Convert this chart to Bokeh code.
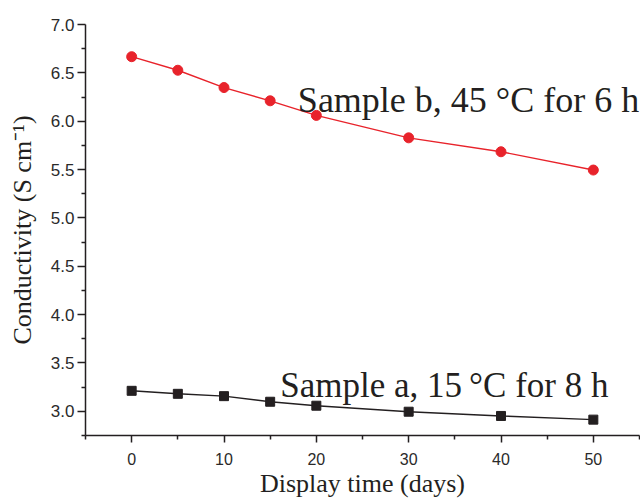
from bokeh.plotting import figure
from bokeh.models import FixedTicker, Label
from bokeh.embed import file_html
from bokeh.resources import INLINE

# Data
days = [0, 5, 10, 15, 20, 30, 40, 50]
sample_b = [6.667, 6.527, 6.348, 6.211, 6.060, 5.828, 5.684, 5.495]
sample_a = [3.212, 3.181, 3.157, 3.099, 3.058, 2.996, 2.952, 2.914]

x_major = [0, 10, 20, 30, 40, 50]
x_minor = [-5, 5, 15, 25, 35, 45, 55]
y_major = [3.0, 3.5, 4.0, 4.5, 5.0, 5.5, 6.0, 6.5, 7.0]
y_minor = [2.75, 3.25, 3.75, 4.25, 4.75, 5.25, 5.75, 6.25, 6.75]

label_b = "Sample b, 45 °C for 6 h"
label_a = "Sample a, 15\u2009°C for 8 h"

RED = "#e8232b"
BLACK = "#231f20"
SERIF = "Liberation Serif"
SANS = "Liberation Sans"

p = figure(width=640, height=500, x_range=(-5, 55), y_range=(2.75, 7.0),
           output_backend="svg", toolbar_location=None,
           min_border_left=85, min_border_right=1, min_border_top=24, min_border_bottom=62)
p.outline_line_color = None
p.xgrid.visible = False
p.ygrid.visible = False
p.background_fill_color = "white"
p.border_fill_color = "white"

p.line(days, sample_b, line_color=RED, line_width=1.4)
p.scatter(days, sample_b, marker="circle", size=10, fill_color=RED, line_color=RED)
p.line(days, sample_a, line_color=BLACK, line_width=1.4)
p.scatter(days, sample_a, marker="square", size=9, fill_color=BLACK, line_color=BLACK)

p.xaxis.ticker = FixedTicker(ticks=x_major, minor_ticks=x_minor)
p.yaxis.ticker = FixedTicker(ticks=y_major, minor_ticks=y_minor)
p.yaxis.major_label_overrides = {v: f"{v:.1f}" for v in y_major}

for ax in (p.xaxis, p.yaxis):
    ax.axis_line_color = BLACK
    ax.axis_line_width = 1.5
    ax.major_tick_line_color = BLACK
    ax.minor_tick_line_color = BLACK
    ax.major_tick_line_width = 1.5
    ax.minor_tick_line_width = 1.5
    ax.major_tick_in = 0
    ax.minor_tick_in = 0
    ax.major_label_text_font = SANS
    ax.major_label_text_color = "#2a2a2a"
    ax.axis_label_text_font = SERIF
    ax.axis_label_text_font_style = "normal"
    ax.axis_label_text_font_size = "26px"
    ax.axis_label_text_color = BLACK

p.xaxis.major_label_text_font_size = "16px"
p.yaxis.major_label_text_font_size = "17px"
p.xaxis.major_tick_out = 7
p.xaxis.minor_tick_out = 4
p.yaxis.major_tick_out = 8
p.yaxis.minor_tick_out = 4
p.xaxis.major_label_standoff = 10
p.yaxis.major_label_standoff = 3
p.xaxis.axis_label = "Display time (days)"
p.yaxis.axis_label = "Conductivity (S cm\u207b\u00b9)"
p.xaxis.axis_label_standoff = 1
p.yaxis.axis_label_standoff = 11

p.add_layout(Label(x=18.0, y=6.22, text=label_b, text_font=SERIF, text_font_size="36px",
                   text_color=BLACK, text_align="left", text_baseline="alphabetic"))
p.add_layout(Label(x=16.1, y=3.27, text=label_a, text_font=SERIF, text_font_size="35px",
                   text_color=BLACK, text_align="left", text_baseline="alphabetic"))

open("out.html", "w").write(file_html(p, INLINE))
